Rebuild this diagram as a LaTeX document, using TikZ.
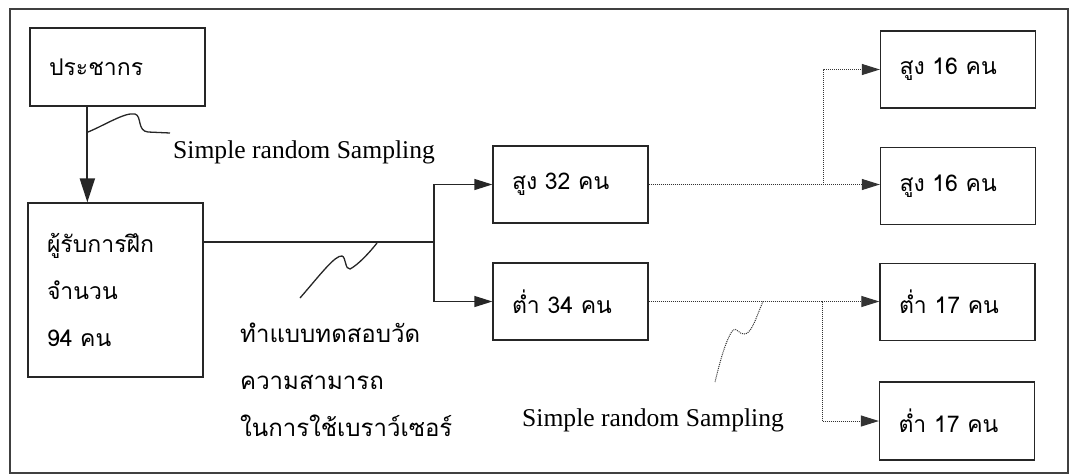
\documentclass[tikz,border=0pt]{standalone}
\usepackage{fontspec}
\setmainfont{Liberation Serif}
\newfontfamily\thaifont[Script=Thai]{Loma}
\usetikzlibrary{arrows.meta,calc}
\begin{document}
\begin{tikzpicture}[x=1pt,y=-1pt,
  box/.style={draw=black!85,line width=1.3pt,minimum width=#1,text width=#1-38pt,
    inner xsep=19pt,inner ysep=0pt,align=left,
    font=\thaifont\fontsize{23}{47}\selectfont},
  box/.default=155pt,
  solidline/.style={draw=black!85,line width=1.3pt},
  dotline/.style={draw=black!80,line width=1pt,dash pattern=on 1pt off 1pt},
  tip/.style={-{Triangle[length=18pt,width=11pt]}},
  bigtip/.style={-{Triangle[length=24pt,width=15pt]}},
  thaitext/.style={font=\thaifont\fontsize{24}{47}\selectfont,align=left,anchor=west,inner sep=0pt},
  lattext/.style={font=\fontsize{25.6}{30}\selectfont,anchor=west,inner sep=0pt}]
\useasboundingbox (0,0) rectangle (1073,475);
\draw[draw=black!75,line width=1.3pt] (10,9) rectangle (1068,473);

\node[box=175pt,minimum height=78pt] (pop) at (117.5,67) {ประชากร};
\node[box=175pt,minimum height=174pt] (trn) at (115.5,290) {ผู้รับการฝึก\\จำนวน\\94 คน};
\node[box,minimum height=77pt] (h32) at (570.5,184.5) {สูง 32 คน};
\node[box,minimum height=77pt] (l34) at (570.5,301.5) {ต่ำ 34 คน};
\node[box,minimum height=77pt] (h16a) at (958,69.5) {สูง 16 คน};
\node[box,minimum height=77pt] (h16b) at (958,186) {สูง 16 คน};
\node[box,minimum height=77pt] (l17a) at (957.5,302) {ต่ำ 17 คน};
\node[box,minimum height=78pt] (l17b) at (957,421) {ต่ำ 17 คน};

\node[lattext] (lab1) at (173,152) {Simple random Sampling};
\node[lattext] (lab2) at (522,420) {Simple random Sampling};
\node[thaitext] (lab3) at (240,380) {ทำแบบทดสอบวัด\\ความสามารถ\\ในการใช้เบราว์เซอร์};

% population -> trainees
\draw[solidline,line width=2pt,bigtip] ([xshift=58pt]pop.south west) -- ([xshift=60pt]trn.north west);
\draw[solidline] (88,132) .. controls (105,125) and (125,112) .. (135,114)
  .. controls (142,116) and (137,131) .. (148,132) -- (170,133);

% trainees -> high/low
\coordinate (s1) at (434,242);
\draw[solidline] (trn.east |- s1) -- (s1);
\draw[solidline,tip] (s1) |- (h32.west);
\draw[solidline,tip] (s1) |- (l34.west);
\draw[solidline] (300,298) .. controls (320,275) and (335,255) .. (342,256)
  .. controls (346,257) and (345,270) .. (350,269)
  .. controls (358,265) and (370,252) .. (377,243);

% high 32 -> two groups
\coordinate (s2) at (823,184.5);
\draw[dotline] (h32.east) -- (s2);
\draw[dotline,tip] (s2) -- (h16b.west |- s2);
\draw[dotline,tip] (s2) |- (h16a.west);

% low 34 -> two groups
\coordinate (s3) at (822,301.5);
\draw[dotline] (l34.east) -- (s3);
\draw[dotline,tip] (s3) -- (l17a.west |- s3);
\draw[dotline,tip] (s3) |- (l17b.west);
\draw[dotline] (763,301.5) .. controls (757,315) and (752,333) .. (745,334)
  .. controls (739,335) and (737,327) .. (733,330)
  .. controls (725,340) and (718,370) .. (715,382);
\end{tikzpicture}
\end{document}
